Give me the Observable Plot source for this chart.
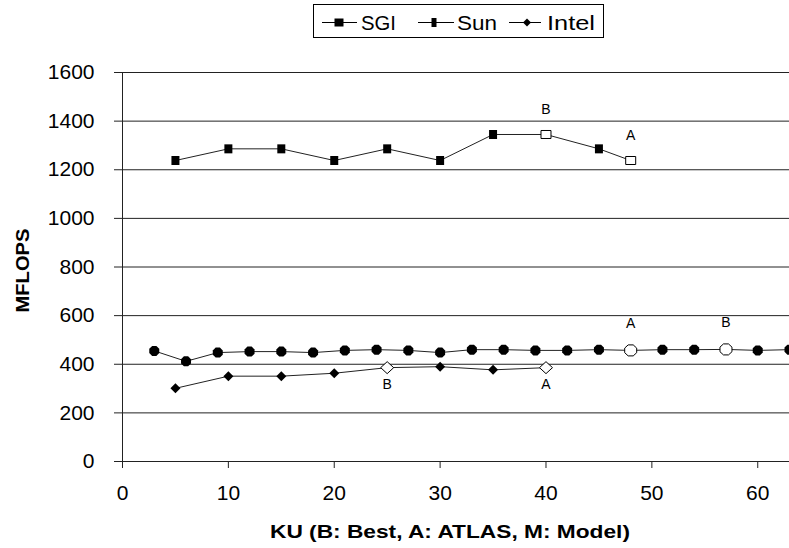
<!DOCTYPE html>
<html>
<head>
<meta charset="utf-8">
<script src="https://cdn.jsdelivr.net/npm/d3@7"></script>
<script src="https://cdn.jsdelivr.net/npm/@observablehq/plot@0.6"></script>
<style>
  html, body { margin: 0; padding: 0; background: #fff; overflow: hidden; }
  #chart { width: 789px; height: 548px; font-family: "Liberation Sans", Arial, sans-serif; }
  #legend { display: block; }
</style>
</head>
<body>
<div id="chart"></div>
<script>
// ---------------- data ----------------
const seriesNames = ["SGI", "Sun", "Intel"];

const sgiKU = [3, 6, 9, 12, 15, 18, 21, 24, 27, 30, 33, 36, 39, 42, 45, 48, 51, 54, 57, 60, 63];
const sgiMF = [455, 412, 448, 452, 452, 448, 457, 460, 457, 448, 460, 460, 457, 457, 460, 457, 460, 460, 461, 457, 460];

const sunKU = [5, 10, 15, 20, 25, 30, 35, 40, 45, 48];
const sunMF = [1238, 1286, 1286, 1238, 1286, 1238, 1345, 1345, 1286, 1238];

const intelKU = [5, 10, 15, 20, 25, 30, 35, 40];
const intelMF = [301, 351, 351, 363, 386, 390, 377, 386];

const labelSeries = ["Sun", "Sun", "SGI", "SGI", "Intel", "Intel"];
const labelKU = [40, 48, 48, 57, 25, 40];
const labelText = ["B", "A", "A", "B", "B", "A"];

const xTicks = [0, 10, 20, 30, 40, 50, 60];
const yTicks = [0, 200, 400, 600, 800, 1000, 1200, 1400, 1600];

const xTitle = "KU (B: Best, A: ATLAS, M: Model)";
const yTitle = "MFLOPS";

// ---------------- build table ----------------
const rows = [];
function addSeries(name, ku, mf) {
  ku.forEach((k, i) => {
    const li = labelSeries.findIndex((s, j) => s === name && labelKU[j] === k);
    rows.push({series: name, ku: k, mf: mf[i], tag: li >= 0 ? labelText[li] : null});
  });
}
addSeries("SGI", sgiKU, sgiMF);
addSeries("Sun", sunKU, sunMF);
addSeries("Intel", intelKU, intelMF);

// ---------------- symbols (style) ----------------
const rectSym = (w, h) => ({draw(ctx) {
  ctx.moveTo(-w/2, -h/2); ctx.lineTo(w/2, -h/2); ctx.lineTo(w/2, h/2); ctx.lineTo(-w/2, h/2); ctx.closePath();
}});
const octSym = (w, h) => ({draw(ctx) {
  const a = w/2, b = h/2, ca = a*0.42, cb = b*0.42;
  ctx.moveTo(-ca, -b); ctx.lineTo(ca, -b); ctx.lineTo(a, -cb); ctx.lineTo(a, cb);
  ctx.lineTo(ca, b); ctx.lineTo(-ca, b); ctx.lineTo(-a, cb); ctx.lineTo(-a, -cb); ctx.closePath();
}});
const diaSym = (w, h) => ({draw(ctx) {
  ctx.moveTo(0, -h/2); ctx.lineTo(w/2, 0); ctx.lineTo(0, h/2); ctx.lineTo(-w/2, 0); ctx.closePath();
}});

const style = {
  SGI:   {filled: octSym(10, 10), hollow: octSym(12, 11), labelDy: -27},
  Sun:   {filled: rectSym(8, 9),  hollow: rectSym(10, 8), labelDy: -25},
  Intel: {filled: diaSym(10, 10), hollow: diaSym(13, 12), labelDy: 17}
};

// ---------------- legend ----------------
const legend = d3.create("svg")
  .attr("id", "legend")
  .attr("width", 789).attr("height", 44)
  .style("font-family", "'Liberation Sans', Arial, sans-serif");
legend.append("rect").attr("x", 313.5).attr("y", 4.5).attr("width", 290).attr("height", 33)
  .attr("fill", "#fff").attr("stroke", "#000").attr("stroke-width", 1);
const legItems = [
  {x0: 322, x1: 357, m: 339, tx: 361, tw: 35},
  {x0: 418, x1: 454, m: 434, tx: 457, tw: 40},
  {x0: 509, x1: 541, m: 527, tx: 547, tw: 48}
];
const legSyms = {SGI: rectSym(9, 8), Sun: rectSym(5, 9), Intel: diaSym(8, 8)};
seriesNames.forEach((name, i) => {
  const it = legItems[i];
  legend.append("line").attr("x1", it.x0).attr("x2", it.x1).attr("y1", 22.5).attr("y2", 22.5)
    .attr("stroke", "#000").attr("stroke-width", 1);
  const p = d3.path(); legSyms[name].draw(p);
  legend.append("path").attr("d", p.toString()).attr("transform", `translate(${it.m},22.5)`).attr("fill", "#000");
  legend.append("text").attr("x", it.tx).attr("y", 30).attr("font-size", 21)
    .attr("textLength", it.tw).attr("lengthAdjust", "spacingAndGlyphs")
    .attr("fill", "#000").text(name);
});

// ---------------- plot ----------------
const marks = [
  Plot.gridY(yTicks, {stroke: "#222", strokeOpacity: 1}),
  Plot.ruleX([0], {stroke: "#222", strokeWidth: 1}),
  Plot.axisY(yTicks, {tickSize: 8, tickPadding: 20, fontSize: 21, label: null, stroke: "#222", tickFormat: d3.format("d")}),
  Plot.axisX(xTicks, {tickSize: 7, tickPadding: 17, fontSize: 21, label: null, stroke: "#222", tickFormat: d3.format("d")}),
  Plot.line(rows, {x: "ku", y: "mf", z: "series", stroke: "#222", strokeWidth: 1})
];
seriesNames.forEach(name => {
  const st = style[name];
  marks.push(Plot.dot(rows.filter(d => d.series === name && !d.tag),
    {x: "ku", y: "mf", symbol: st.filled, r: 5, fill: "#000", stroke: "none"}));
  marks.push(Plot.dot(rows.filter(d => d.series === name && d.tag),
    {x: "ku", y: "mf", symbol: st.hollow, r: 5, fill: "#fff", stroke: "#000", strokeWidth: 1}));
  marks.push(Plot.text(rows.filter(d => d.series === name && d.tag),
    {x: "ku", y: "mf", text: "tag", dy: st.labelDy, fontSize: 14, fill: "#000", textAnchor: "middle", lineAnchor: "middle"}));
});
marks.push(Plot.text([xTitle], {text: d => d, frameAnchor: "bottom", dx: -6, dy: 70.5,
  textAnchor: "middle", lineAnchor: "middle", fontSize: 18.5, fontWeight: "bold", fill: "#000"}));
marks.push(Plot.text([yTitle], {text: d => d, frameAnchor: "left", dx: -100, dy: 3.5, rotate: -90,
  textAnchor: "middle", lineAnchor: "middle", fontSize: 19, fontWeight: "bold", fill: "#000"}));

const plot = Plot.plot({
  width: 789,
  height: 504,
  marginTop: 28,
  marginBottom: 87,
  marginLeft: 122,
  marginRight: 0,
  x: {domain: [0, 63]},
  y: {domain: [0, 1600]},
  style: {fontFamily: "'Liberation Sans', Arial, sans-serif", color: "#000", background: "#fff", overflow: "visible"},
  marks
});

// stretch titles to match the reference's wide lettering
plot.querySelectorAll("text").forEach(t => {
  if (t.textContent === xTitle) { t.setAttribute("textLength", 360); t.setAttribute("lengthAdjust", "spacingAndGlyphs"); }
  if (t.textContent === yTitle) { t.setAttribute("textLength", 84); t.setAttribute("lengthAdjust", "spacingAndGlyphs"); }
});

const chart = document.getElementById("chart");
chart.appendChild(legend.node());
chart.appendChild(plot);
</script>
</body>
</html>
